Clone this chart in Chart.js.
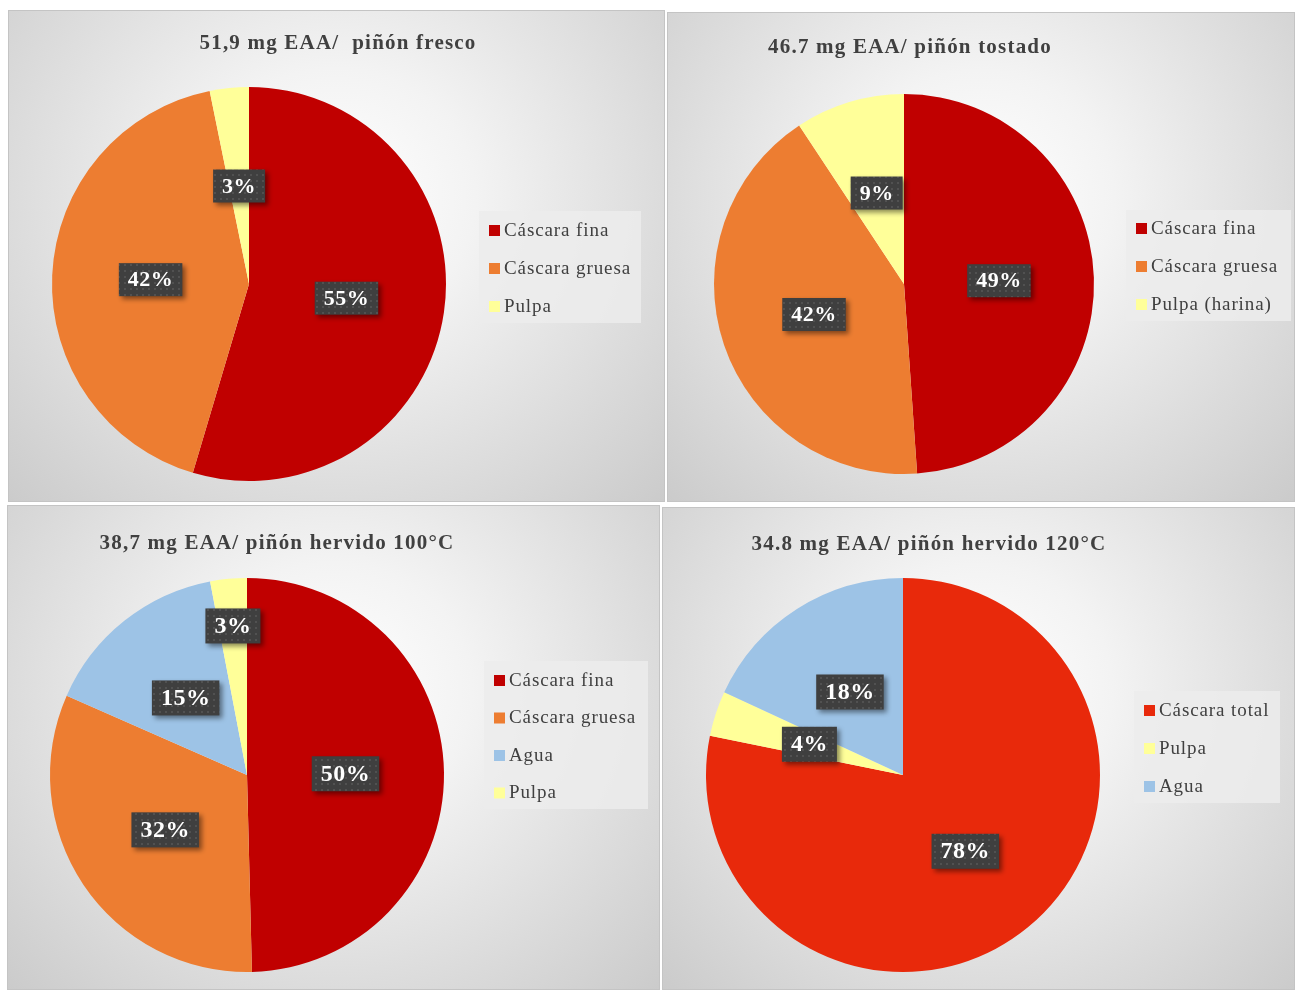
<!DOCTYPE html>
<html>
<head>
<meta charset="utf-8">
<script src="https://cdn.jsdelivr.net/npm/chart.js@4.4.1/dist/chart.umd.min.js"></script>
<style>
  body { margin: 0; background: #fff; width: 1295px; height: 992px; position: relative; overflow: hidden; }
  .panel {
    position: absolute;
    box-sizing: border-box;
    border: 1px solid #c4c4c4;
    background: radial-gradient(ellipse farthest-corner at 50% 38%, #ffffff 0%, #f3f3f3 30%, #dcdcdc 70%, #cbcbcb 100%);
  }
  .panel canvas { position: absolute; left: 0; top: 0; }
</style>
</head>
<body>
<div class="panel" id="p1" style="left:8px;top:10px;width:657px;height:492px"><canvas id="c1" width="657" height="492"></canvas></div>
<div class="panel" id="p2" style="left:667px;top:12px;width:628px;height:490px"><canvas id="c2" width="628" height="490"></canvas></div>
<div class="panel" id="p3" style="left:7px;top:505px;width:653px;height:485px"><canvas id="c3" width="653" height="485"></canvas></div>
<div class="panel" id="p4" style="left:662px;top:507px;width:633px;height:483px"><canvas id="c4" width="633" height="483"></canvas></div>
<script>
// Datos (porcentaje de EAA por fracción)
const titles = [
    '51,9 mg EAA/  piñón fresco',
    '46.7 mg EAA/ piñón tostado',
    '38,7 mg EAA/ piñón hervido 100°C',
    '34.8 mg EAA/ piñón hervido 120°C'
];
const frescoLabels = ['Cáscara fina', 'Cáscara gruesa', 'Pulpa'];
const frescoValues = [54.6, 42.2, 3.2];
const tostadoLabels = ['Cáscara fina', 'Cáscara gruesa', 'Pulpa (harina)'];
const tostadoValues = [48.9, 41.8, 9.3];
const hervido100Labels = ['Cáscara fina', 'Cáscara gruesa', 'Agua', 'Pulpa'];
const hervido100Values = [49.6, 32.0, 15.4, 3.0];
const hervido120Labels = ['Cáscara total', 'Pulpa', 'Agua'];
const hervido120Values = [78.2, 3.7, 18.1];

// Colores
const colores = {
    'Cáscara fina': '#C00000',
    'Cáscara gruesa': '#ED7D31',
    'Pulpa': '#FFFF99',
    'Pulpa (harina)': '#FFFF99',
    'Agua': '#9DC3E6',
    'Cáscara total': '#E8290B'
};

const SERIF = '"Liberation Serif", "Times New Roman", serif';

// patrón punteado para las etiquetas
function patronEtiqueta(ctx) {
    const c = document.createElement('canvas');
    c.width = 6; c.height = 6;
    const p = c.getContext('2d');
    p.fillStyle = '#3f3f3f';
    p.fillRect(0, 0, 6, 6);
    p.fillStyle = '#515151';
    p.fillRect(1, 1, 2, 2);
    return ctx.createPattern(c, 'repeat');
}

// Título, leyenda y etiquetas de datos
const panelPlugin = {
    id: 'panelPlugin',
    afterDatasetsDraw(chart, args, opts) {
        const ctx = chart.ctx;
        const ds = chart.data.datasets[0];
        const meta = chart.getDatasetMeta(0);
        const total = ds.data.reduce((a, b) => a + b, 0);
        const pat = patronEtiqueta(ctx);

        meta.data.forEach((arc, i) => {
            // posición radial de la etiqueta (0.5 = mitad del radio)
            const f = (opts.labelRadius && opts.labelRadius[i]) || 0.5;
            const p = arc.getProps(['x', 'y', 'startAngle', 'endAngle', 'outerRadius'], true);
            const mid = (p.startAngle + p.endAngle) / 2;
            const pos = { x: p.x + Math.cos(mid) * p.outerRadius * f, y: p.y + Math.sin(mid) * p.outerRadius * f };
            const txt = Math.round(ds.data[i] / total * 100) + '%';
            ctx.save();
            ctx.font = 'bold ' + opts.labelSize + 'px ' + SERIF;
            ctx.letterSpacing = '0.5px';
            const w = ctx.measureText(txt).width + 18;
            const h = opts.labelSize + 11;
            ctx.shadowColor = 'rgba(0,0,0,0.45)';
            ctx.shadowBlur = 5;
            ctx.shadowOffsetX = 3;
            ctx.shadowOffsetY = 3;
            ctx.fillStyle = pat;
            ctx.fillRect(pos.x - w / 2, pos.y - h / 2, w, h);
            ctx.restore();
            ctx.save();
            ctx.font = 'bold ' + opts.labelSize + 'px ' + SERIF;
            ctx.letterSpacing = '0.5px';
            ctx.fillStyle = '#ffffff';
            ctx.textAlign = 'center';
            ctx.textBaseline = 'middle';
            ctx.fillText(txt, pos.x, pos.y + 1);
            ctx.restore();
        });

        // título
        ctx.save();
        ctx.font = 'bold ' + opts.titleSize + 'px ' + SERIF;
        ctx.letterSpacing = '1.2px';
        ctx.fillStyle = '#404040';
        ctx.textAlign = 'center';
        ctx.textBaseline = 'middle';
        ctx.fillText(opts.title, opts.titleX, opts.titleY);
        ctx.restore();

        // leyenda
        const lg = opts.legend;
        const n = chart.data.labels.length;
        ctx.save();
        ctx.fillStyle = 'rgba(236,236,236,0.85)';
        ctx.fillRect(lg.x, lg.y, lg.w, lg.h);
        ctx.font = opts.legendSize + 'px ' + SERIF;
        ctx.letterSpacing = '0.9px';
        ctx.textBaseline = 'middle';
        for (let i = 0; i < n; i++) {
            const y = lg.firstY + i * lg.step;
            ctx.fillStyle = ds.backgroundColor[i];
            ctx.fillRect(lg.x + 10, y - 5, 11, 11);
            ctx.fillStyle = '#404040';
            ctx.fillText(chart.data.labels[i], lg.x + 25, y + 1);
        }
        ctx.restore();
    }
};

function crearPastel(id, panel, labels, values, cfg) {
    // centro y radio del pastel en coordenadas del panel
    const cx = cfg.cx - panel.left, cy = cfg.cy - panel.top, r = cfg.r;
    new Chart(document.getElementById(id), {
        type: 'pie',
        data: {
            labels: labels,
            datasets: [{
                data: values,
                backgroundColor: labels.map(l => colores[l]),
                borderWidth: 0
            }]
        },
        options: {
            responsive: false,
            animation: false,
            devicePixelRatio: 1,
            layout: {
                padding: {
                    left: cx - r,
                    top: cy - r,
                    right: panel.w - (cx + r),
                    bottom: panel.h - (cy + r)
                }
            },
            plugins: {
                legend: { display: false },
                tooltip: { enabled: false },
                title: { display: false },
                panelPlugin: {
                    title: cfg.title,
                    titleX: cfg.tx - panel.left,
                    titleY: cfg.ty - panel.top,
                    titleSize: 21,
                    labelSize: cfg.labelSize,
                    labelRadius: cfg.labelRadius,
                    legendSize: 19,
                    legend: {
                        x: cfg.lg[0] - panel.left,
                        y: cfg.lg[1] - panel.top,
                        w: cfg.lg[2],
                        h: cfg.lg[3],
                        firstY: cfg.lg[4] - panel.top,
                        step: cfg.lg[5]
                    }
                }
            }
        },
        plugins: [panelPlugin]
    });
}

crearPastel('c1', { left: 8, top: 10, w: 657, h: 492 }, frescoLabels, frescoValues, {
    cx: 248, cy: 283, r: 197, title: titles[0], tx: 337, ty: 43, labelSize: 22,
    lg: [478, 210, 162, 112, 229, 38]
});
crearPastel('c2', { left: 667, top: 12, w: 628, h: 490 }, tostadoLabels, tostadoValues, {
    cx: 903, cy: 283, r: 190, title: titles[1], tx: 909, ty: 47, labelSize: 22,
    lg: [1125, 209, 165, 111, 227, 38]
});
crearPastel('c3', { left: 7, top: 505, w: 653, h: 485 }, hervido100Labels, hervido100Values, {
    cx: 246, cy: 774, r: 197, title: titles[2], tx: 276, ty: 543, labelSize: 24,
    labelRadius: [0.5, 0.5, 0.5, 0.76],
    lg: [483, 660, 164, 148, 679, 37.5]
});
crearPastel('c4', { left: 662, top: 507, w: 633, h: 483 }, hervido120Labels, hervido120Values, {
    cx: 902, cy: 774, r: 197, title: titles[3], tx: 928, ty: 544, labelSize: 24,
    lg: [1133, 690, 146, 112, 709, 38]
});
</script>
</body>
</html>
